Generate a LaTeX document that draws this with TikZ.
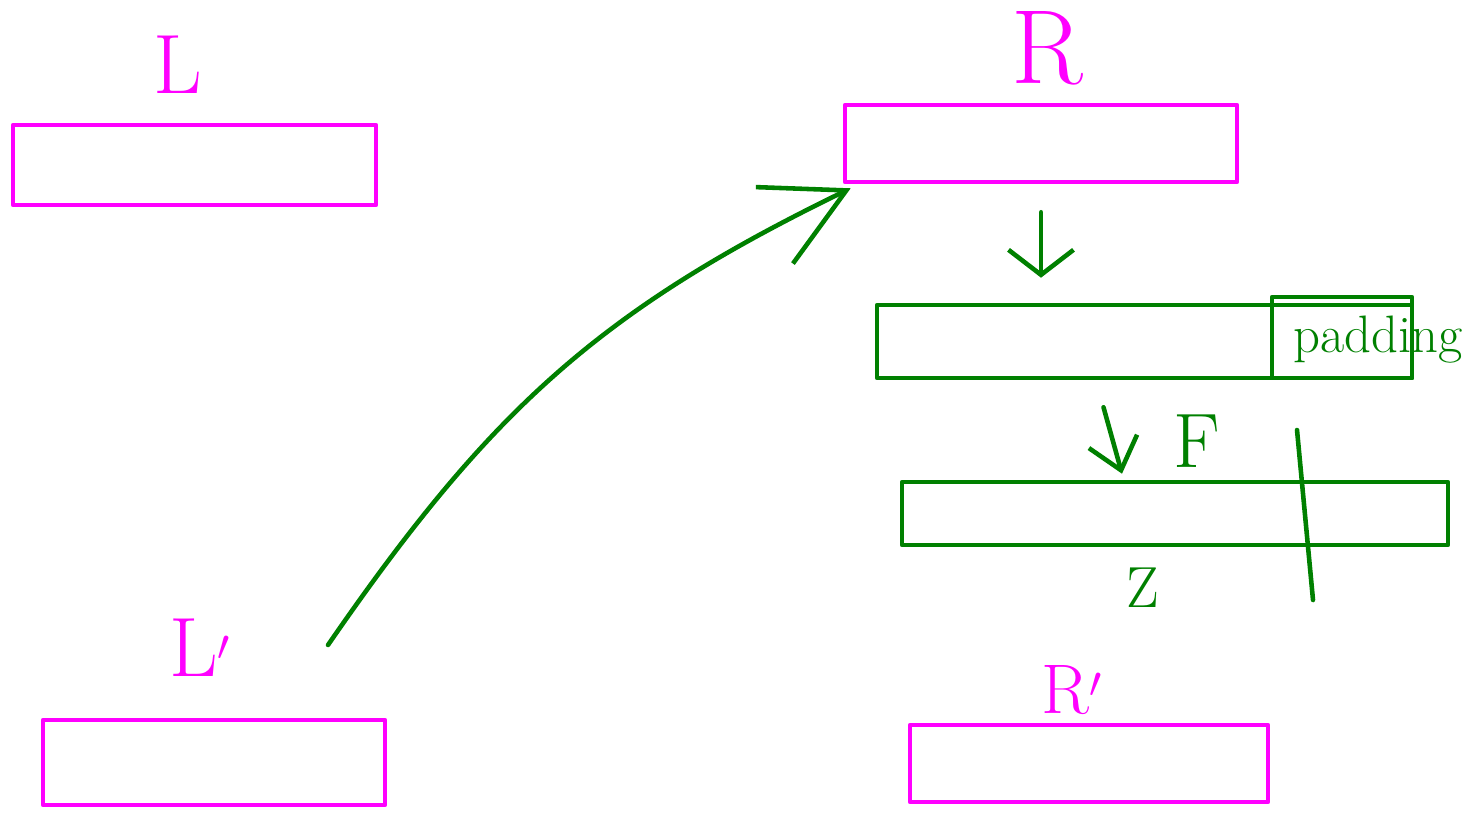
\documentclass[tikz,border=0pt]{standalone}
\usepackage{tikz}
\usetikzlibrary{arrows.meta,calc,fit,positioning}
\definecolor{sketchmag}{RGB}{255,0,255}
\definecolor{sketchgreen}{RGB}{0,128,0}
\tikzset{
	box/.style = {draw, rectangle, inner sep=0pt},
	mbox/.style = {box, draw=sketchmag},
	gbox/.style = {box, draw=sketchgreen},
	lbl/.style = {inner sep=0pt, font=\fontsize{48}{56}\selectfont},
	arr/.style = {sketchgreen, -{Straight Barb[length=5mm, width=13mm]}},
}

\begin{document}
\begin{tikzpicture}[x=0.02cm, y=-0.02cm, line width=2.6pt, line cap=round, line join=round]
    \useasboundingbox (0,0) rectangle (1483,813);
    % top row
    \node[mbox, fit={(13,125) (376,205)}] (Lbox) {};
    \node[lbl, sketchmag] (Ltxt) at (178,65) {L};
    \node[mbox, fit={(845,105) (1237,182)}] (Rbox) {};
    \node[lbl, sketchmag, font=\fontsize{60}{70}\selectfont] (Rtxt) at (1047,48) {R};
    % padded and folded
    \node[gbox, fit={(877,305) (1412,378)}] (Pbox) {};
    \node[gbox, fit={(1272,297) (1412,378)}] (pad) {};
    \node[lbl, sketchgreen, font=\fontsize{30}{34}\selectfont] (padtxt) at (1378,340) {padding};
    \node[gbox, fit={(902,482) (1448,545)}] (Fbox) {};
    \node[lbl, sketchgreen, font=\fontsize{44}{52}\selectfont] (Ftxt) at (1197,441) {F};
    \node[lbl, sketchgreen, font=\fontsize{33}{40}\selectfont] (Ztxt) at (1143,588) {Z};
    \draw[sketchgreen] (1297,430) -- (1313,600);
    % bottom row
    \node[mbox, fit={(43,720) (385,805)}] (Lpbox) {};
    \node[lbl, sketchmag] (Lptxt) at (200,648) {L$'$};
    \node[mbox, fit={(910,725) (1268,802)}] (Rpbox) {};
    \node[lbl, sketchmag, font=\fontsize{40}{48}\selectfont] (Rptxt) at (1072,690) {R$'$};
    \coordinate (Lpstart) at (328,645);
    % arrows
    \draw[arr, shorten <=0.56cm, shorten >=0.5cm] (Rbox.south) -- (Rbox.south |- Pbox.north);
    \draw[arr, -{Straight Barb[length=6mm, width=10mm]}] ($(Pbox.south)+(-41,27)$) -- ($(Fbox.north)+(-53,-6)$);
    \draw[arr, -{Straight Barb[length=16mm, width=17mm]}] (Lpstart) .. controls (490,410) and (600,310) .. ($(Rbox.south west)+(8,4)$);
\end{tikzpicture}
\end{document}
